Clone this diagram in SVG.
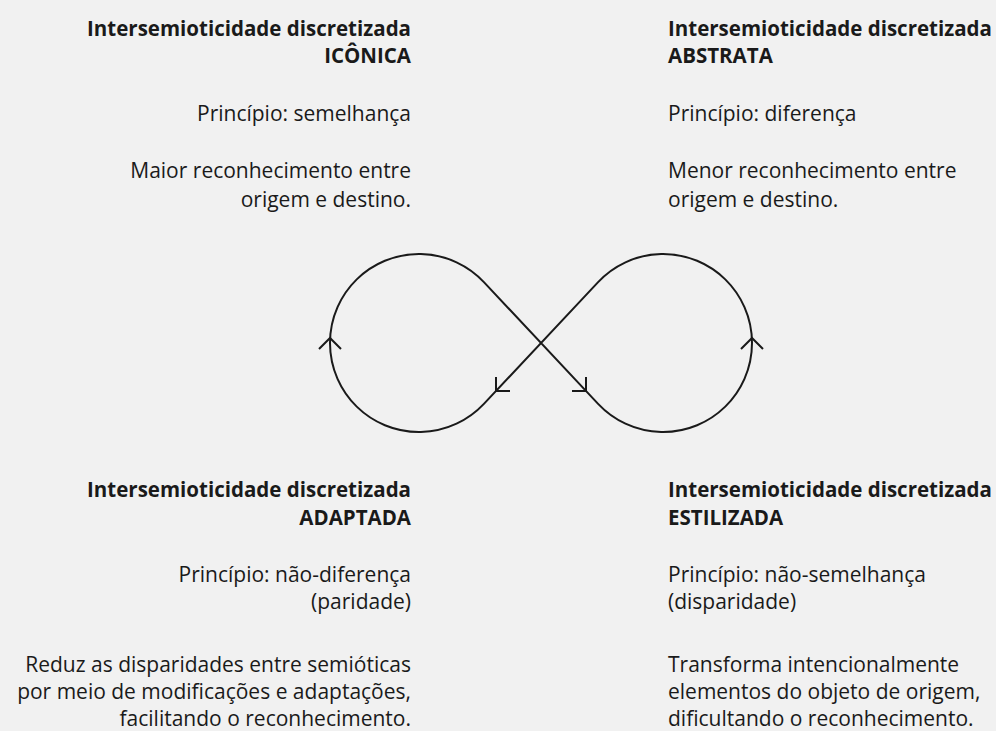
<svg xmlns="http://www.w3.org/2000/svg" width="996" height="731" viewBox="0 0 996 731">
<style>
  text { font-family: "Open Sans", "Noto Sans", "Liberation Sans", sans-serif; font-size: 21px; fill: #1a1a1a; }
  .b { font-weight: 700; font-size: 20.5px; }
  .e { text-anchor: end; }
  .curve { fill: none; stroke: #1a1a1a; stroke-width: 2; stroke-linejoin: round; }
  .head { fill: none; stroke: #1a1a1a; stroke-width: 2; stroke-linecap: butt; stroke-linejoin: miter; }
</style>
<rect width="996" height="731" fill="#f1f1f1"/>
<g id="iconica">
  <text class="b e" x="411" y="36">Intersemioticidade discretizada</text>
  <text class="b e" x="411" y="63">ICÔNICA</text>
  <text class="e" x="411" y="121">Princípio: semelhança</text>
  <text class="e" x="411" y="178">Maior reconhecimento entre</text>
  <text class="e" x="411" y="206.5">origem e destino.</text>
</g>
<g id="abstrata">
  <text class="b" x="668" y="36">Intersemioticidade discretizada</text>
  <text class="b" x="668" y="63">ABSTRATA</text>
  <text x="668" y="121">Princípio: diferença</text>
  <text x="668" y="178">Menor reconhecimento entre</text>
  <text x="668" y="206.5">origem e destino.</text>
</g>
<g id="adaptada">
  <text class="b e" x="411" y="497">Intersemioticidade discretizada</text>
  <text class="b e" x="411" y="525">ADAPTADA</text>
  <text class="e" x="411" y="582">Princípio: não-diferença</text>
  <text class="e" x="411" y="609">(paridade)</text>
  <text class="e" x="411" y="671.5">Reduz as disparidades entre semióticas</text>
  <text class="e" x="411" y="699">por meio de modificações e adaptações,</text>
  <text class="e" x="411" y="726">facilitando o reconhecimento.</text>
</g>
<g id="estilizada">
  <text class="b" x="668" y="497">Intersemioticidade discretizada</text>
  <text class="b" x="668" y="525">ESTILIZADA</text>
  <text x="668" y="582">Princípio: não-semelhança</text>
  <text x="668" y="609">(disparidade)</text>
  <text x="668" y="671.5">Transforma intencionalmente</text>
  <text x="668" y="699">elementos do objeto de origem,</text>
  <text x="668" y="726">dificultando o reconhecimento.</text>
</g>
<g id="connectors">
  <path class="curve" d="M 483.9 403.9 A 89 89 0 1 1 483.9 282.1 L 598.1 403.9 A 89 89 0 1 0 598.1 282.1 Z"/>
  <polyline class="head" points="319,349 330,338 341,349"/>
  <polyline class="head" points="741,349 752,338 763,349"/>
  <polyline class="head" points="496,377 496,391 510,391"/>
  <polyline class="head" points="586,377 586,391 572,391"/>
</g>
</svg>
